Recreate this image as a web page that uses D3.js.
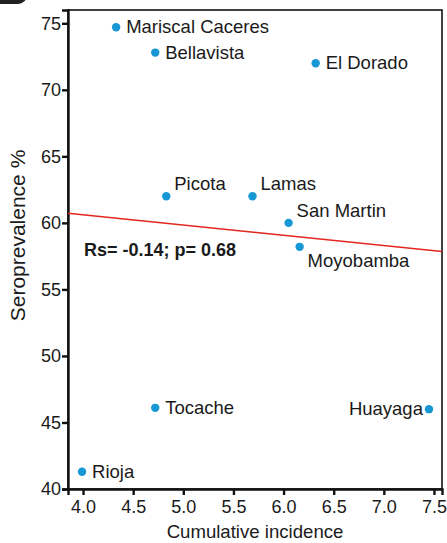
<!DOCTYPE html>
<meta charset="utf-8">
<script src="https://cdnjs.cloudflare.com/ajax/libs/d3/7.8.5/d3.min.js"></script>
<style>
 body { margin: 0; background: #fff; }
 text { font-family: "Liberation Sans", Arial, sans-serif; fill: #1a1a1a; }
</style>
<div id="container"></div>
<script>
 var width = 447;
 var height = 543;

 // data
 var districts = ["Mariscal Caceres", "Bellavista", "El Dorado", "Picota", "Lamas",
                  "San Martin", "Moyobamba", "Tocache", "Huayaga", "Rioja"];
 var incidence = [4.33, 4.72, 6.32, 4.83, 5.69, 6.05, 6.16, 4.72, 7.45, 3.99];
 var seroprev  = [74.7, 72.8, 72.0, 62.0, 62.0, 60.0, 58.2, 46.1, 46.0, 41.3];
 // where each label sits relative to its dot
 var labelPos  = ["right", "right", "right", "above", "above", "above", "below", "right", "left", "right"];
 var xTicks = [4.0, 4.5, 5.0, 5.5, 6.0, 6.5, 7.0, 7.5];
 var yTicks = [40, 45, 50, 55, 60, 65, 70, 75];
 var statText = "Rs= -0.14; p= 0.68";

 var margin = {top: 10, right: 5, bottom: 54, left: 68};

 var svg = d3.select("#container").append("svg")
             .attr("width", width)
             .attr("height", height);

 // panel letter box, cut off at the top-left corner
 svg.append("rect")
    .attr("x", -12).attr("y", -30)
    .attr("width", 39).attr("height", 34)
    .attr("rx", 9)
    .attr("fill", "#222");

 var x = d3.scaleLinear().domain([3.85, 7.58]).range([margin.left, width - margin.right]);
 var y = d3.scaleLinear().domain([40, 76]).range([height - margin.bottom, margin.top]);

 // regression line (least squares)
 var mx = d3.mean(incidence), my = d3.mean(seroprev);
 var sxy = d3.sum(incidence, (d, i) => (d - mx) * (seroprev[i] - my));
 var sxx = d3.sum(incidence, d => (d - mx) * (d - mx));
 var slope = sxy / sxx, icpt = my - slope * mx;

 // frame
 svg.append("rect")
    .attr("x", x.range()[0]).attr("y", y.range()[1])
    .attr("width", x.range()[1] - x.range()[0])
    .attr("height", y.range()[0] - y.range()[1])
    .attr("fill", "none").attr("stroke", "#111").attr("stroke-width", 1.6);

 var xAxis = svg.append("g")
    .attr("transform", `translate(0,${y.range()[0]})`)
    .call(d3.axisBottom(x).tickValues(xTicks).tickFormat(d3.format(".1f")).tickSize(6).tickPadding(5));
 var yAxis = svg.append("g")
    .attr("transform", `translate(${x.range()[0]},0)`)
    .call(d3.axisLeft(y).tickValues(yTicks).tickSize(6).tickPadding(1));

 [xAxis, yAxis].forEach(function(g) {
     g.select(".domain").attr("stroke", "#111").attr("stroke-width", 2.4);
     g.selectAll(".tick line").attr("stroke", "#111").attr("stroke-width", 2.4);
     g.selectAll(".tick text").attr("font-size", 18).attr("fill", "#1a1a1a")
      .attr("font-family", "Liberation Sans, Arial, sans-serif");
 });

 svg.append("text")
    .attr("x", (x.range()[0] + x.range()[1]) / 2)
    .attr("y", 538)
    .attr("text-anchor", "middle")
    .attr("font-size", 18.6)
    .text("Cumulative incidence");

 svg.append("text")
    .attr("transform", `translate(25,${(y.range()[0] + y.range()[1]) / 2 - 14}) rotate(-90)`)
    .attr("text-anchor", "middle")
    .attr("font-size", 21)
    .text("Seroprevalence %");

 svg.append("line")
    .attr("x1", x(x.domain()[0])).attr("y1", y(slope * x.domain()[0] + icpt))
    .attr("x2", x(x.domain()[1])).attr("y2", y(slope * x.domain()[1] + icpt))
    .attr("stroke", "#e3261f").attr("stroke-width", 1.6);

 svg.append("text")
    .attr("x", 84).attr("y", 256)
    .attr("font-size", 18)
    .attr("font-weight", "bold")
    .text(statText);

 var pts = svg.append("g").selectAll("g")
    .data(districts.map((d, i) => ({name: d, cx: incidence[i], cy: seroprev[i], pos: labelPos[i]})))
    .enter().append("g");

 pts.append("circle")
    .attr("cx", d => x(d.cx)).attr("cy", d => y(d.cy))
    .attr("r", 4.2)
    .attr("fill", "#1797d3");

 pts.append("text")
    .attr("font-size", 18.5)
    .attr("x", d => d.pos === "left" ? x(d.cx) - 6 : d.pos === "right" ? x(d.cx) + 10 : x(d.cx) + 8)
    .attr("y", d => d.pos === "above" ? y(d.cy) - 6 : d.pos === "below" ? y(d.cy) + 20 : y(d.cy) + 6)
    .attr("text-anchor", d => d.pos === "left" ? "end" : "start")
    .text(d => d.name);
</script>
